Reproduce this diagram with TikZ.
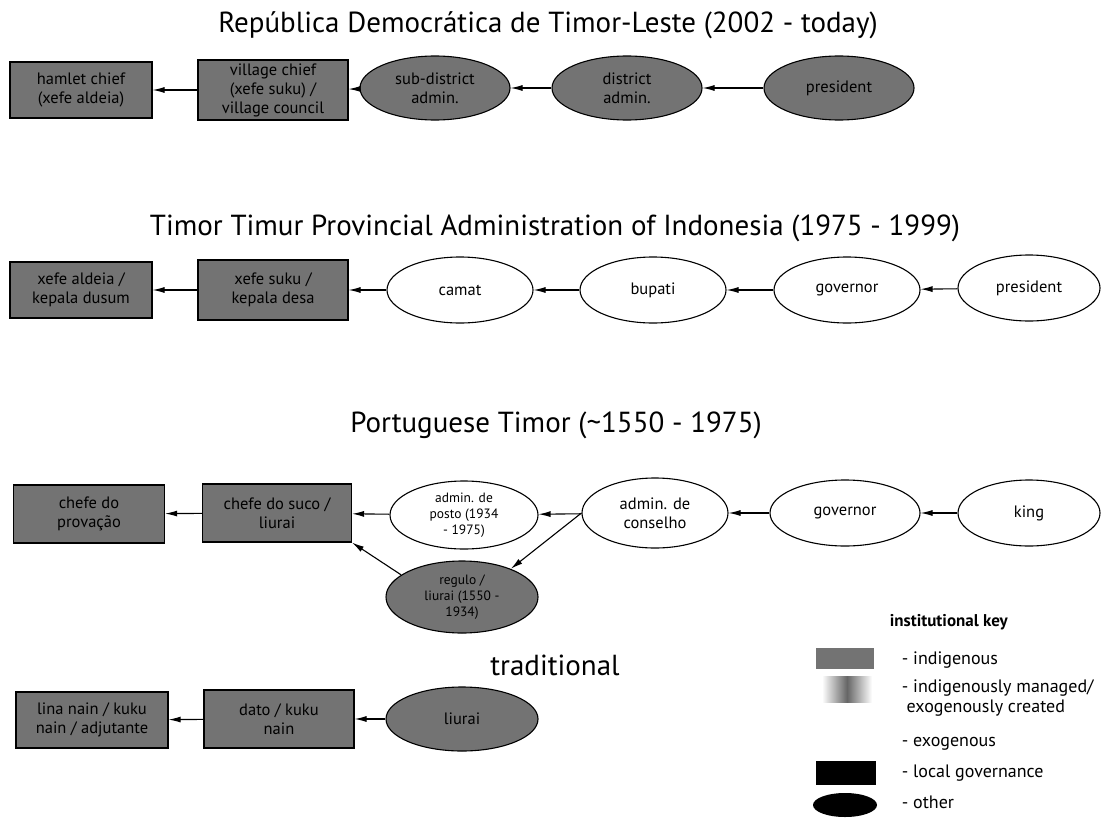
\documentclass[tikz,border=0pt]{standalone}
\usepackage{fontspec}
\setmainfont{PT Sans}
\usetikzlibrary{shapes.geometric,arrows.meta}

\begin{document}
\begin{tikzpicture}[x=1pt,y=-1pt,>={Latex[length=12pt,width=6pt]},line width=1.1pt,
    indig box/.style={rectangle,draw,fill=black!55,minimum width=142pt,minimum height=56pt,align=center,font=\fontsize{16.5}{19}\selectfont,inner sep=2pt},
    indig node/.style={ellipse,draw,fill=black!55,minimum width=150pt,minimum height=64pt,align=center,font=\fontsize{16.5}{19}\selectfont,inner sep=1pt},
    exo node/.style={ellipse,draw,fill=white,minimum width=146pt,minimum height=66pt,align=center,font=\fontsize{16.5}{19}\selectfont,inner sep=1pt},
    small text/.style={font=\fontsize{13.5}{16}\selectfont},
    era title/.style={font=\fontsize{29}{33}\selectfont},
    key text/.style={anchor=west,font=\fontsize{18}{20}\selectfont,align=left}]
    \fill[white] (0,0) rectangle (1102,819);

    % 2002 - today
    \node[era title] (t1) at (548,25) {República Democrática de Timor-Leste (2002 - today)};
    \node[indig box] (hamlet) at (81,90) {hamlet chief\\(xefe aldeia)};
    \node[indig box,minimum width=150pt,minimum height=60pt] (village) at (273,90) {village chief\\(xefe suku) /\\village council};
    \node[indig node] (subdist) at (435,88) {sub-district\\admin.};
    \node[indig node] (dist) at (627,88) {district\\admin.};
    \node[indig node] (pres1) at (839,88) {president};
    \path[->]
        (village) edge (hamlet)
        (subdist) edge (village)
        (dist) edge (subdist)
        (pres1) edge (dist);

    % 1975 - 1999
    \node[era title] (t2) at (555,228) {Timor Timur Provincial Administration of Indonesia (1975 - 1999)};
    \node[indig box] (aldeia) at (81,290) {xefe aldeia /\\kepala dusum};
    \node[indig box,minimum width=150pt,minimum height=60pt] (suku) at (273,290) {xefe suku /\\kepala desa};
    \node[exo node] (camat) at (460,290) {camat};
    \node[exo node] (bupati) at (653,290) {bupati};
    \node[exo node] (gov2) at (847,290) {governor};
    \node[exo node,minimum width=142pt] (pres2) at (1029,288) {president};
    \path[->]
        (suku) edge (aldeia)
        (camat) edge (suku)
        (bupati) edge (camat)
        (gov2) edge (bupati)
        (pres2) edge (gov2);

    % ~1550 - 1975
    \node[era title] (t3) at (556,425) {Portuguese Timor (\textasciitilde1550 - 1975)};
    \node[indig box,minimum width=151pt,minimum height=58pt] (provacao) at (89,514) {chefe do\\provação};
    \node[indig box,minimum width=149pt,minimum height=58pt] (suco) at (277,513) {chefe do suco /\\liurai};
    \node[exo node,minimum width=148pt,minimum height=68pt,small text] (posto) at (464,515) {admin. de\\posto (1934\\- 1975)};
    \node[exo node,minimum width=146pt,minimum height=70pt] (conselho) at (655,513) {admin. de\\conselho};
    \node[exo node,minimum width=150pt] (gov3) at (845,513) {governor};
    \node[exo node,minimum width=142pt] (king) at (1029,513) {king};
    \node[indig node,minimum width=152pt,minimum height=72pt,small text] (regulo) at (462,597) {regulo /\\liurai (1550 -\\1934)};
    \path[->]
        (suco) edge (provacao)
        (posto) edge (suco)
        (conselho) edge (posto)
        (gov3) edge (conselho)
        (king) edge (gov3)
        (conselho.west) edge (regulo.30)
        (regulo.160) edge (suco.south east);

    % traditional
    \node[era title] (t4) at (555,665) {traditional};
    \node[indig box,minimum width=152pt] (lina) at (92,720) {lina nain / kuku\\nain / adjutante};
    \node[indig box,minimum width=150pt,minimum height=58pt] (dato) at (279,719) {dato / kuku\\nain};
    \node[indig node,minimum width=152pt,minimum height=64pt] (liurai) at (462,719) {liurai};
    \path[->]
        (dato) edge (lina)
        (liurai) edge (dato);

    % institutional key
    \node[anchor=west,font=\fontsize{17}{20}\selectfont\bfseries] (keyhead) at (886,622) {institutional key};
    \node[rectangle,fill=black!55,minimum width=58pt,minimum height=21pt,inner sep=0pt] (kindig) at (845,658) {};
    \node[key text] (lindig) at (898,660) {- indigenous};
    \shade[left color=white,right color=white,middle color=black!60] (822,676) rectangle (872,702);
    \coordinate (kmixed) at (847,689);
    \node[key text] (lmixed) at (898,698) {- indigenously managed/\\\ exogenously created};
    \node[key text] (lexo) at (898,744) {- exogenous};
    \node[rectangle,fill=black,minimum width=60pt,minimum height=24pt,inner sep=0pt] (klocal) at (846,773) {};
    \node[key text] (llocal) at (898,773) {- local governance};
    \node[ellipse,fill=black,minimum width=64pt,minimum height=24pt,inner sep=0pt] (kother) at (845,805) {};
    \node[key text] (lother) at (898,802) {- other};
\end{tikzpicture}
\end{document}
